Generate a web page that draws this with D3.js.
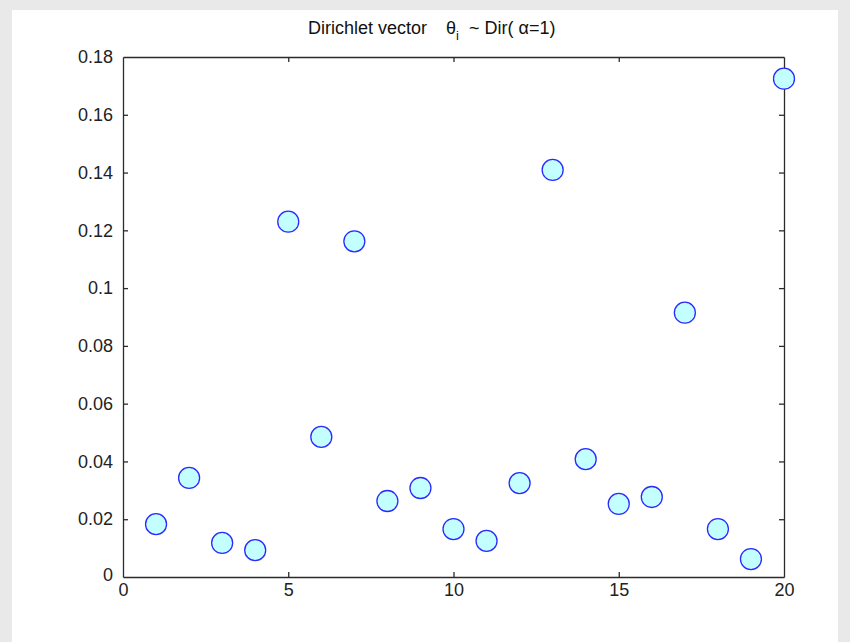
<!DOCTYPE html>
<html>
<head>
<meta charset="utf-8">
<script src="https://cdn.jsdelivr.net/npm/d3@7"></script>
<style>
  html, body { margin: 0; padding: 0; background: #e9e9e9; }
  svg { display: block; }
</style>
</head>
<body>
<svg id="chart" width="850" height="642"></svg>
<script>
const indices = [1,2,3,4,5,6,7,8,9,10,11,12,13,14,15,16,17,18,19,20];
const theta = [0.0183,0.0343,0.0118,0.0093,0.1230,0.0485,0.1162,0.0263,0.0308,0.0166,
               0.0125,0.0325,0.1409,0.0408,0.0253,0.0277,0.0915,0.0166,0.0062,0.1725];
const xTicks = [0,5,10,15,20];
const yTicks = [0,0.02,0.04,0.06,0.08,0.1,0.12,0.14,0.16,0.18];
const yTickLabels = ["0","0.02","0.04","0.06","0.08","0.1","0.12","0.14","0.16","0.18"];

const svg = d3.select("#chart");
const W = 850, H = 642;
const m = {left: 123, right: 784, top: 57, bottom: 577};

svg.append("rect").attr("x",0).attr("y",0).attr("width",W).attr("height",H).attr("fill","#e9e9e9");
svg.append("rect").attr("x",12).attr("y",10).attr("width",826).attr("height",H-10).attr("fill","#ffffff");

const x = d3.scaleLinear().domain([0,20]).range([m.left, m.right]);
const y = d3.scaleLinear().domain([0,0.18]).range([m.bottom, m.top]);

const font = "'Liberation Sans', Arial, Helvetica, sans-serif";
const axisColor = "#2b2b2b";
const fs = 18;

const bottomAxis = d3.axisBottom(x).tickValues(xTicks).tickSizeInner(-5).tickSizeOuter(0).tickPadding(6).tickFormat(d3.format("d"));
const topAxis = d3.axisTop(x).tickValues(xTicks).tickSizeInner(-5).tickSizeOuter(0).tickFormat("");
const leftAxis = d3.axisLeft(y).tickValues(yTicks).tickSizeInner(-5).tickSizeOuter(0).tickPadding(10).tickFormat((d,i)=>yTickLabels[i]);
const rightAxis = d3.axisRight(y).tickValues(yTicks).tickSizeInner(-5).tickSizeOuter(0).tickFormat("");

function style(g){
  g.select(".domain").attr("stroke",axisColor).attr("stroke-width",1.3);
  g.selectAll(".tick line").attr("stroke",axisColor).attr("stroke-width",1.3);
  g.selectAll(".tick text").attr("fill","#222").style("font-family",font).style("font-size",fs+"px");
}

svg.append("g").attr("transform",`translate(0,${m.bottom})`).call(bottomAxis).call(style);
svg.append("g").attr("transform",`translate(0,${m.top})`).call(topAxis).call(style);
const gl = svg.append("g").attr("transform",`translate(${m.left},0)`).call(leftAxis).call(style);
svg.append("g").attr("transform",`translate(${m.right},0)`).call(rightAxis).call(style);

// zero label on y axis sits slightly above the axis line
gl.selectAll(".tick").filter(d => d===0).select("text").attr("dy","0.2em");

svg.selectAll(".tick").filter(d => d===0 || d===20 || d===0.18).selectAll("line").attr("opacity",0);

// Points
svg.append("g").selectAll("circle").data(indices).join("circle")
  .attr("cx", (d)=>x(d))
  .attr("cy", (d,i)=>y(theta[i]))
  .attr("r", 10.5)
  .attr("fill", "#c4ffff")
  .attr("stroke", "#2a2aff")
  .attr("stroke-width", 1.3);

// Title
const tg = svg.append("g").style("font-family", font).attr("fill","#111");
tg.append("text").attr("x",308).attr("y",34).style("font-size","18px").text("Dirichlet vector");
tg.append("text").attr("x",446).attr("y",34).style("font-size","18px").text("θ");
tg.append("text").attr("x",456).attr("y",40).style("font-size","13px").text("i");
tg.append("text").attr("x",469).attr("y",34).style("font-size","18px").attr("xml:space","preserve").text("~ Dir( α=1)");
</script>
</body>
</html>
